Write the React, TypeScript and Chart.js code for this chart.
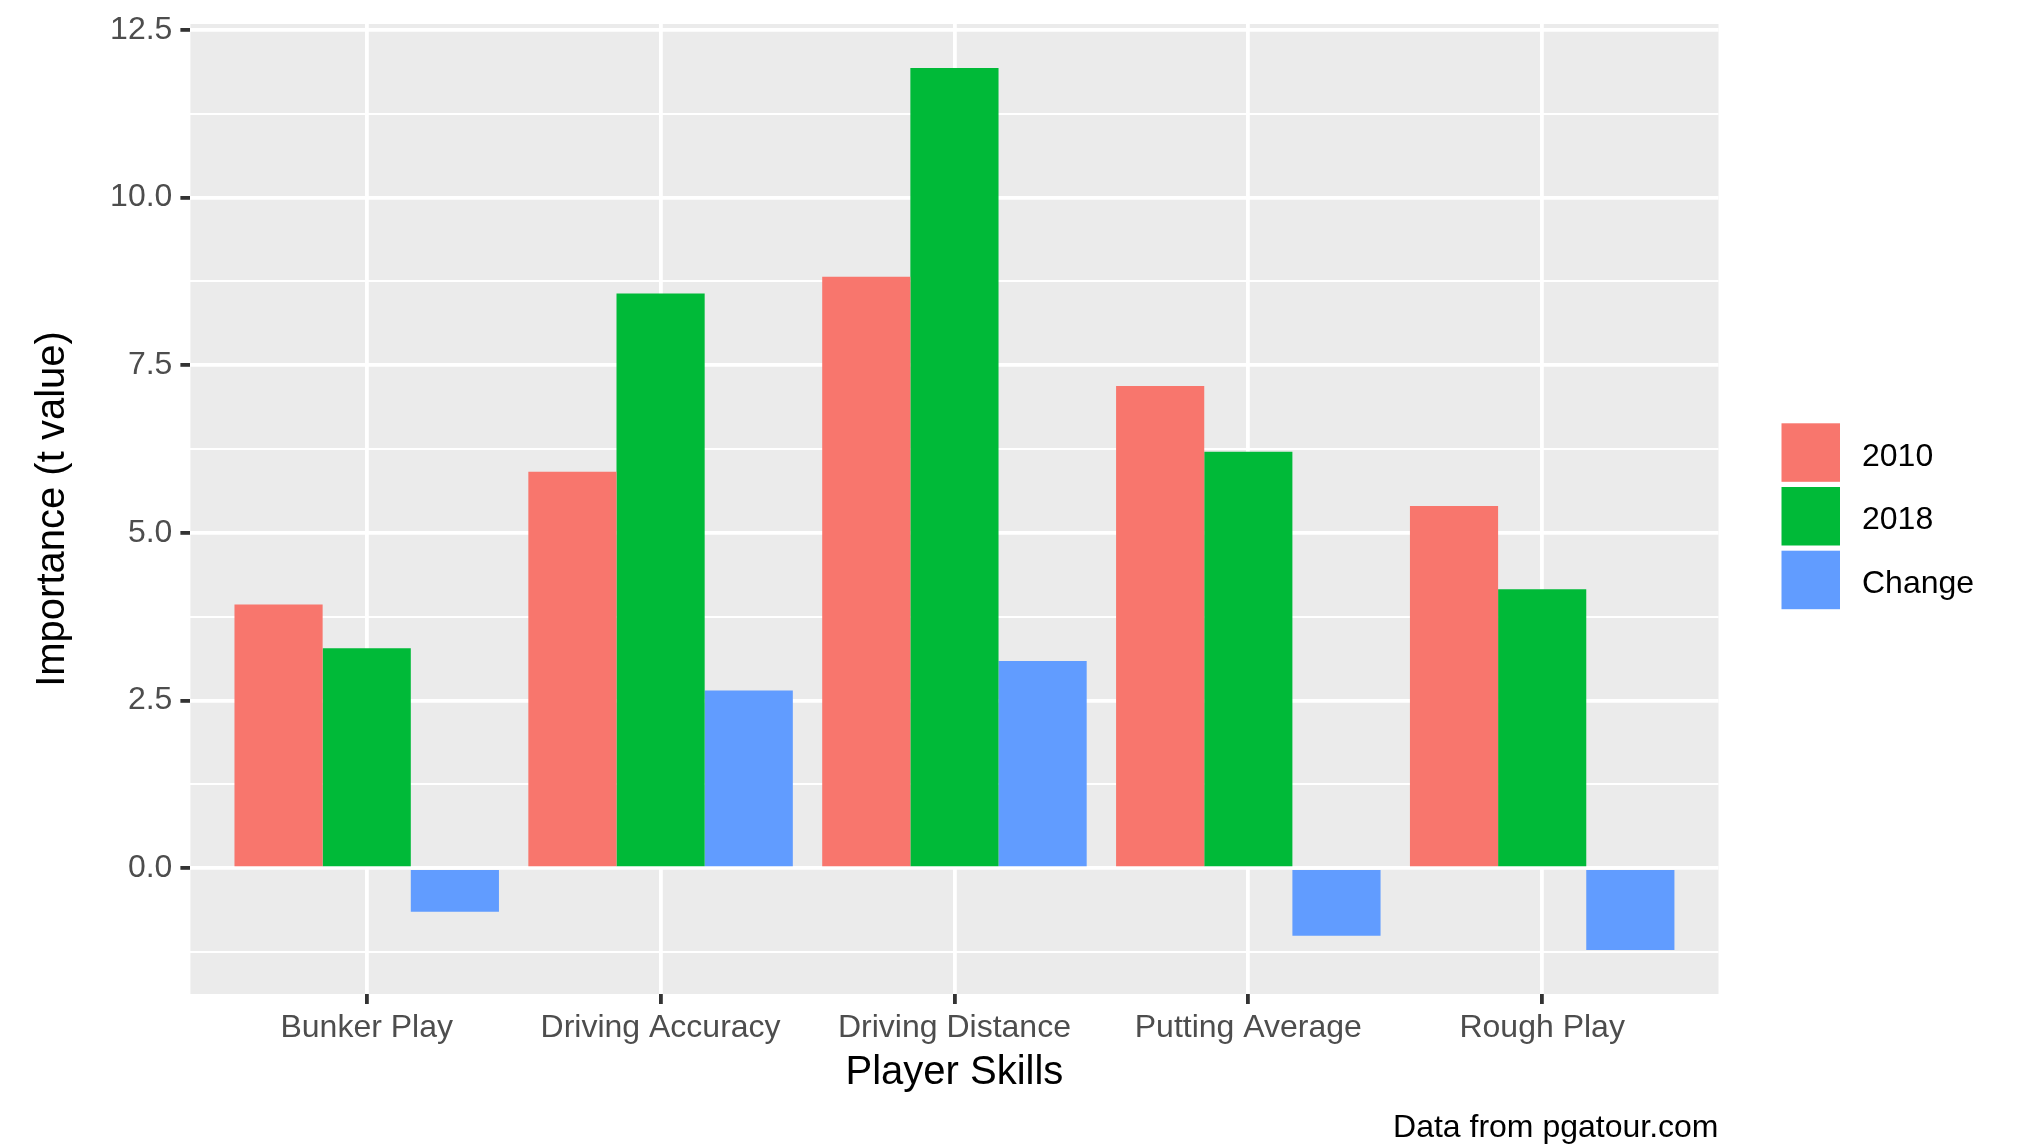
import React, { useEffect, useRef } from "react";
import { Chart, registerables } from "chart.js";

Chart.register(...registerables);

// ---- data ----
const categories = ["Bunker Play", "Driving Accuracy", "Driving Distance", "Putting Average", "Rough Play"];
const series2010 = [3.93, 5.91, 8.82, 7.19, 5.4];
const series2018 = [3.28, 8.57, 11.93, 6.21, 4.16];
const seriesChange = [-0.65, 2.65, 3.09, -1.01, -1.22];
const seriesNames = ["2010", "2018", "Change"];
const seriesColors = ["#F8766D", "#00BA38", "#619CFF"];
const yMajorTicks = [0, 2.5, 5, 7.5, 10, 12.5];
const yMinorTicks = [-1.25, 1.25, 3.75, 6.25, 8.75, 11.25];
const xTitle = "Player Skills";
const yTitle = "Importance (t value)";
const captionText = "Data from pgatour.com";

// ---- layout ----
const W = 2026;
const H = 1145;
const PANEL_LEFT = 190.4;
const PANEL_RIGHT = 1718.5;
const PANEL_TOP = 19;
const PANEL_BOTTOM = 994;
const FAMILY = "'Liberation Sans', Arial, Helvetica, sans-serif";
const SMALL = 32;
const BIG = 40;

const allValues = [...series2010, ...series2018, ...seriesChange];
const dMin = Math.min(...allValues);
const dMax = Math.max(...allValues);
const expand = (dMax - dMin) * 0.05;
const Y_MIN = dMin - expand;
const Y_MAX = dMax + expand;

const isMajor = (v: number) => yMajorTicks.some((t) => Math.abs(t - v) < 1e-9);

const ggDecor = {
  id: "ggDecor",
  beforeDraw(chart: any) {
    const { ctx, chartArea: a } = chart;
    ctx.save();
    ctx.fillStyle = "#FFFFFF";
    ctx.fillRect(0, 0, chart.width, chart.height);
    ctx.fillStyle = "#EBEBEB";
    ctx.fillRect(a.left, a.top, a.right - a.left, a.bottom - a.top);
    ctx.restore();
  },
  afterDraw(chart: any) {
    const { ctx } = chart;
    ctx.save();
    // legend
    const keyX = 1781.5;
    const keySize = 58.5;
    const keyTop0 = 423.3;
    const step = 63.7;
    ctx.font = `${SMALL}px ${FAMILY}`;
    ctx.textAlign = "left";
    ctx.textBaseline = "alphabetic";
    seriesNames.forEach((name, i) => {
      const top = keyTop0 + i * step;
      ctx.fillStyle = seriesColors[i];
      ctx.fillRect(keyX, top, keySize, keySize);
      ctx.fillStyle = "#000000";
      ctx.fillText(name, 1862, 465.7 + i * step);
    });
    // caption
    ctx.textAlign = "right";
    ctx.fillStyle = "#000000";
    ctx.fillText(captionText, PANEL_RIGHT, 1136.5);
    ctx.restore();
  },
};

export default function App() {
  const ref = useRef<HTMLCanvasElement | null>(null);

  useEffect(() => {
    if (!ref.current) return;
    const seriesValues = [series2010, series2018, seriesChange];
    const chart = new Chart(ref.current, {
      type: "bar",
      data: {
        datasets: seriesValues.map((vals, k) => ({
          label: seriesNames[k],
          data: vals.map((v, i) => ({ x: i, y: v })),
          backgroundColor: seriesColors[k],
          borderWidth: 0,
          categoryPercentage: 0.9,
          barPercentage: 1.0,
        })),
      },
      options: {
        responsive: false,
        devicePixelRatio: 1,
        animation: false,
        layout: { padding: { top: PANEL_TOP, right: W - PANEL_RIGHT, bottom: 0, left: 0 } },
        plugins: {
          legend: { display: false },
          tooltip: { enabled: false },
        },
        scales: {
          x: {
            type: "linear",
            min: -0.6,
            max: 4.6,
            offset: false,
            afterBuildTicks: (axis: any) => {
              axis.ticks = categories.map((_, i) => ({ value: i }));
            },
            afterFit: (axis: any) => {
              axis.height = H - PANEL_BOTTOM;
            },
            ticks: {
              autoSkip: false,
              maxRotation: 0,
              minRotation: 0,
              padding: 8.5,
              color: "#4D4D4D",
              font: { family: FAMILY, size: SMALL, lineHeight: 1 },
              callback: (v: any) => categories[Math.round(Number(v))] ?? "",
            },
            grid: {
              offset: false,
              color: "#FFFFFF",
              lineWidth: 3.8,
              drawTicks: true,
              tickLength: 10,
              tickColor: "#333333",
              tickWidth: 3.8,
            },
            border: { display: false },
            title: {
              display: true,
              text: xTitle,
              color: "#000000",
              font: { family: FAMILY, size: BIG, lineHeight: 1 },
              padding: { top: 0, bottom: 52.2 },
            },
          },
          y: {
            type: "linear",
            min: Y_MIN,
            max: Y_MAX,
            afterBuildTicks: (axis: any) => {
              axis.ticks = [...yMinorTicks, ...yMajorTicks]
                .sort((a, b) => a - b)
                .map((v) => ({ value: v }));
            },
            afterFit: (axis: any) => {
              axis.width = PANEL_LEFT;
            },
            ticks: {
              padding: 8,
              color: "#4D4D4D",
              font: { family: FAMILY, size: SMALL, lineHeight: 1 },
              callback: (v: any) => (isMajor(Number(v)) ? Number(v).toFixed(1) : ""),
            },
            grid: {
              offset: false,
              color: "#FFFFFF",
              lineWidth: (ctx: any) => (isMajor(ctx.tick?.value) ? 3.8 : 1.9),
              drawTicks: true,
              tickLength: 10,
              tickColor: (ctx: any) => (isMajor(ctx.tick?.value) ? "#333333" : "rgba(0,0,0,0)"),
              tickWidth: 3.8,
            },
            border: { display: false },
            title: {
              display: true,
              text: yTitle,
              color: "#000000",
              font: { family: FAMILY, size: BIG, lineHeight: 1 },
              padding: { top: 33, bottom: 0 },
            },
          },
        },
      },
      plugins: [ggDecor],
    } as any);
    return () => chart.destroy();
  }, []);

  return (
    <div style={{ position: "fixed", left: 0, top: 0, width: W, height: H, background: "#FFFFFF" }}>
      <canvas ref={ref} width={W} height={H} style={{ display: "block", width: W, height: H }} />
    </div>
  );
}
